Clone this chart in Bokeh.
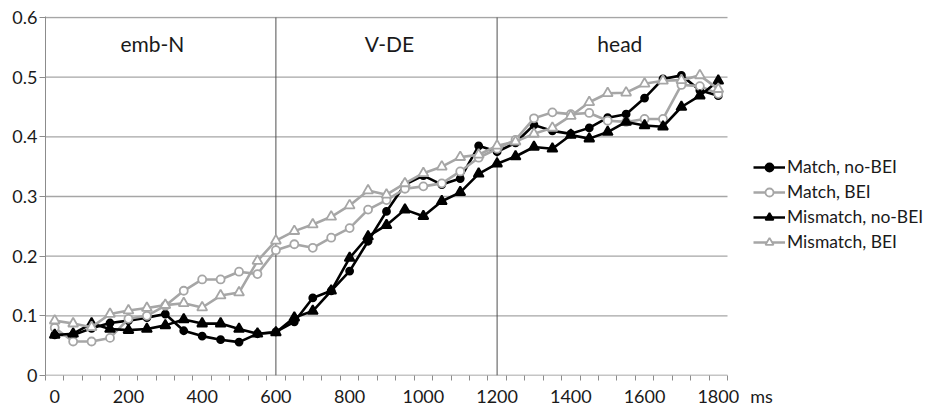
from bokeh.plotting import figure
from bokeh.models import (Range1d, FixedTicker, Label, Legend, LegendItem)
from bokeh.embed import file_html
from bokeh.resources import INLINE

# ---- data (ms, value) ----
time_ms = [0, 50, 100, 150, 200, 250, 300, 350, 400, 450, 500, 550, 600,
           650, 700, 750, 800, 850, 900, 950, 1000, 1050, 1100, 1150, 1200,
           1250, 1300, 1350, 1400, 1450, 1500, 1550, 1600, 1650, 1700, 1750, 1800]

match_nobei = [0.068, 0.068, 0.079, 0.088, 0.092, 0.097, 0.103, 0.075, 0.066, 0.060,
               0.056, 0.070, 0.073, 0.090, 0.130, 0.142, 0.175, 0.225, 0.275, 0.320,
               0.335, 0.320, 0.330, 0.385, 0.375, 0.390, 0.420, 0.410, 0.405, 0.415,
               0.432, 0.438, 0.465, 0.497, 0.503, 0.478, 0.469]

match_bei = [0.080, 0.057, 0.057, 0.063, 0.095, 0.100, 0.117, 0.142, 0.161, 0.161,
             0.174, 0.170, 0.210, 0.220, 0.214, 0.231, 0.247, 0.278, 0.294, 0.313,
             0.317, 0.322, 0.342, 0.365, 0.380, 0.395, 0.431, 0.441, 0.438, 0.440,
             0.427, 0.425, 0.430, 0.430, 0.487, 0.485, 0.472]

mismatch_nobei = [0.068, 0.070, 0.087, 0.078, 0.076, 0.078, 0.084, 0.094, 0.087, 0.087,
                  0.078, 0.070, 0.072, 0.097, 0.108, 0.142, 0.197, 0.233, 0.252, 0.278,
                  0.267, 0.292, 0.307, 0.338, 0.355, 0.367, 0.383, 0.380, 0.403, 0.397,
                  0.408, 0.425, 0.419, 0.417, 0.450, 0.469, 0.494]

mismatch_bei = [0.092, 0.087, 0.081, 0.103, 0.109, 0.113, 0.118, 0.121, 0.114, 0.134,
                0.139, 0.192, 0.226, 0.242, 0.253, 0.266, 0.285, 0.310, 0.303, 0.322,
                0.339, 0.350, 0.366, 0.370, 0.385, 0.392, 0.405, 0.415, 0.435, 0.458,
                0.473, 0.474, 0.489, 0.494, 0.495, 0.503, 0.480]

series_names = ["Match, no-BEI", "Match, BEI", "Mismatch, no-BEI", "Mismatch, BEI"]

x_major_ticks = [0, 200, 400, 600, 800, 1000, 1200, 1400, 1600, 1800]
x_minor_ticks = [-25, 25, 75, 125, 175, 225, 275, 325, 375, 425, 475, 525, 575, 625,
                 675, 725, 775, 825, 875, 925, 975, 1025, 1075, 1125, 1175, 1225,
                 1275, 1325, 1375, 1425, 1475, 1525, 1575, 1625, 1675, 1725, 1775, 1825]
x_unit_label = "ms"
y_ticks = [0, 0.1, 0.2, 0.3, 0.4, 0.5, 0.6]
y_tick_labels = ["0", "0.1", "0.2", "0.3", "0.4", "0.5", "0.6"]

region_names = ["emb-N", "V-DE", "head"]
region_centers = [265, 908, 1533]
region_bounds = [600, 1200]

# ---- layout ----
FONT = "Lato"
GREY = "#a6a6a6"
BLACK = "#000000"
AXIS_GREY = "#8c8c8c"
TEXT = "#1a1a1a"

W, H = 927, 409
LEFT, TOP, BOTTOM = 45, 16, 32
PLOT_W = 682               # width of the drawn chart area (x from -25 to 1825)
X0, X1 = -25, 1825
px_per_unit = PLOT_W / (X1 - X0)
x_end = X1 + (W - LEFT - PLOT_W) / px_per_unit   # frame extends under legend area
unit_label_x = X0 + 716 / px_per_unit

p = figure(width=W, height=H, output_backend="svg", toolbar_location=None,
           x_range=Range1d(X0, x_end), y_range=Range1d(0, 0.6 + 1 / 600),
           min_border_left=LEFT, min_border_top=TOP, min_border_bottom=BOTTOM,
           min_border_right=0)
p.outline_line_color = None
p.background_fill_color = "white"
p.border_fill_color = "white"
p.xgrid.grid_line_color = None
p.ygrid.grid_line_color = None

# x axis: labels at 0..1800, small ticks between categories, "ms" after 1800
xa = p.xaxis[0]
xa.axis_label = None
xa.ticker = FixedTicker(ticks=x_major_ticks + [unit_label_x], minor_ticks=x_minor_ticks)
xa.major_label_overrides = {unit_label_x: x_unit_label}
xa.major_tick_line_color = None
xa.major_tick_out = 0
xa.major_tick_in = 0
xa.minor_tick_out = 5
xa.minor_tick_in = 0
xa.minor_tick_line_color = AXIS_GREY
xa.axis_line_color = None
xa.major_label_text_font = FONT
xa.major_label_text_font_size = "18px"
xa.major_label_text_color = TEXT
xa.major_label_standoff = 4

ya = p.yaxis[0]
ya.axis_label = None
ya.ticker = FixedTicker(ticks=y_ticks, minor_ticks=[])
ya.major_label_overrides = {t: s for t, s in zip(y_ticks, y_tick_labels)}
ya.major_tick_out = 6
ya.major_tick_in = 0
ya.major_tick_line_color = AXIS_GREY
ya.minor_tick_line_color = None
ya.axis_line_color = AXIS_GREY
ya.major_label_text_font = FONT
ya.major_label_text_font_size = "18px"
ya.major_label_text_color = TEXT
ya.major_label_standoff = 2

# horizontal gridlines and x axis line, limited to the chart area
grid_y = y_ticks[1:]
p.segment(x0=[X0] * len(grid_y), x1=[X1] * len(grid_y), y0=grid_y, y1=grid_y,
          line_color=GREY, line_width=1.3)
p.segment(x0=[X0], x1=[X1], y0=[0], y1=[0], line_color=AXIS_GREY, line_width=1.3)

# region boundaries
p.segment(x0=region_bounds, x1=region_bounds, y0=[0] * len(region_bounds),
          y1=[0.6] * len(region_bounds), line_color="#505050", line_width=1)

for name, cx in zip(region_names, region_centers):
    p.add_layout(Label(x=cx, y=0.557, text=name, text_align="center", text_baseline="middle",
                       text_font=FONT, text_font_size="21px", text_color=TEXT))

items = []
styles = [
    (match_nobei, BLACK, "circle", BLACK, 7),
    (match_bei, GREY, "circle", "white", 8),
    (mismatch_nobei, BLACK, "triangle", BLACK, 10),
    (mismatch_bei, GREY, "triangle", "white", 10),
]
for name, (vals, col, mk, fill, sz) in zip(series_names, styles):
    ln = p.line(time_ms, vals, line_color=col, line_width=2.6)
    sc = p.scatter(time_ms, vals, marker=mk, size=sz, line_color=col, fill_color=fill,
                   line_width=1.8)
    items.append(LegendItem(label=name, renderers=[ln, sc]))

legend = Legend(items=items, location=(708, 123), orientation="vertical")
legend.label_text_font = FONT
legend.label_text_font_size = "17.5px"
legend.label_text_color = TEXT
legend.glyph_width = 32
legend.glyph_height = 20
legend.label_height = 20
legend.spacing = 4
legend.padding = 0
legend.margin = 0
legend.label_standoff = 2
legend.border_line_color = None
legend.background_fill_alpha = 0
p.add_layout(legend)

open("out.html", "w").write(file_html(p, INLINE))
